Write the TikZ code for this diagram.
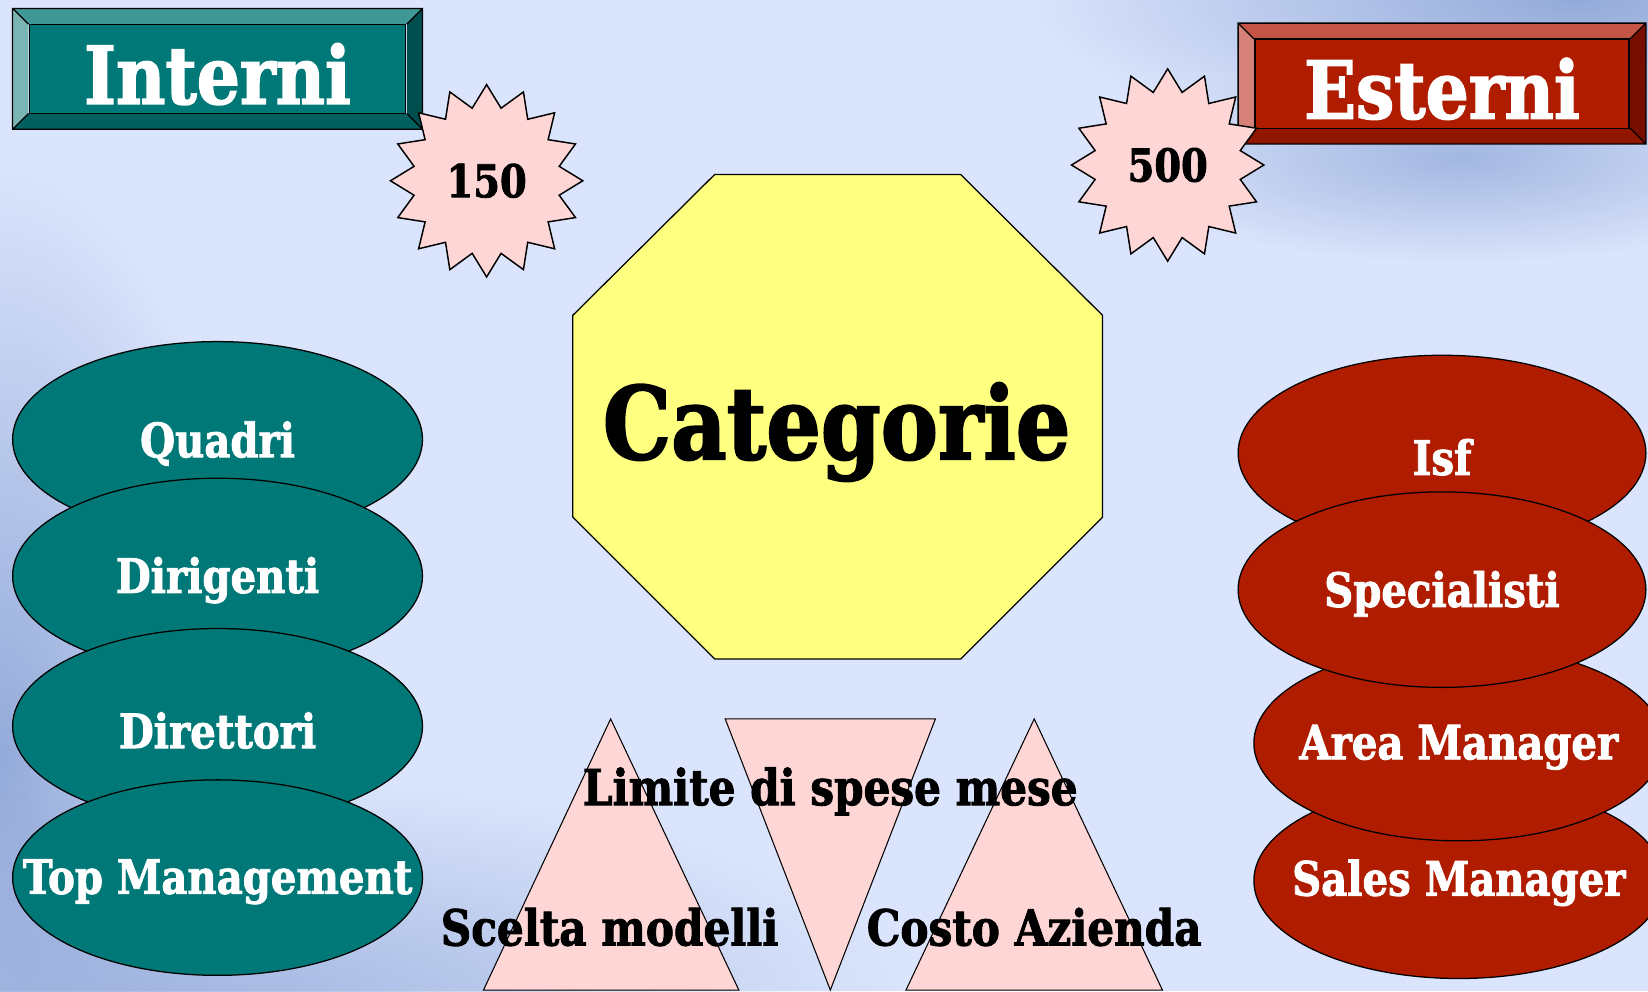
\documentclass[tikz,border=0pt]{standalone}
\usepackage{fontspec}
\newfontfamily\coop{DejaVu Serif}[FakeStretch=0.85,FakeBold=1.8]
\usetikzlibrary{shapes.geometric,fadings}

\definecolor{bgblue}{RGB}{218,228,252}
\definecolor{texblue}{RGB}{140,164,214}
\definecolor{tealface}{RGB}{0,120,120}
\definecolor{tealtop}{RGB}{64,152,150}
\definecolor{tealleft}{RGB}{122,181,179}
\definecolor{tealbot}{RGB}{0,96,96}
\definecolor{tealright}{RGB}{0,78,78}
\definecolor{redface}{RGB}{176,28,0}
\definecolor{redtop}{RGB}{196,85,70}
\definecolor{redleft}{RGB}{214,130,122}
\definecolor{redbot}{RGB}{144,22,0}
\definecolor{redright}{RGB}{118,14,0}
\definecolor{pinkfill}{RGB}{255,214,214}
\definecolor{octoyellow}{RGB}{255,255,128}

\tikzfading[name=softglow,inner color=transparent!0,outer color=transparent!100]

% bevelled frame: x1,y1,x2,y2,depth,colour prefix
\newcommand\bevelbox[6]{%
  \fill[#6top] (#1,#2) -- (#3,#2) -- (#3-#5,#2+#5) -- (#1+#5,#2+#5) -- cycle;
  \fill[#6left] (#1,#2) -- (#1+#5,#2+#5) -- (#1+#5,#4-#5) -- (#1,#4) -- cycle;
  \fill[#6bot] (#1,#4) -- (#1+#5,#4-#5) -- (#3-#5,#4-#5) -- (#3,#4) -- cycle;
  \fill[#6right] (#3,#2) -- (#3,#4) -- (#3-#5,#4-#5) -- (#3-#5,#2+#5) -- cycle;
  \draw[line width=0.6pt] (#1,#2) rectangle (#3,#4)
    (#1,#2) -- (#1+#5,#2+#5) (#3,#2) -- (#3-#5,#2+#5)
    (#1,#4) -- (#1+#5,#4-#5) (#3,#4) -- (#3-#5,#4-#5);
}

\begin{document}
\begin{tikzpicture}[x=0.5pt,y=-0.5pt,
every node/.style={inner sep=0pt},
face/.style={draw,line width=0.6pt,minimum width=179pt,minimum height=42.5pt},
head text/.style={text=white,font=\coop\bfseries\fontsize{38}{42}\selectfont},
oval/.style={ellipse,draw,line width=0.6pt,minimum width=195pt,minimum height=93pt},
teal oval/.style={oval,fill=tealface},
red oval/.style={oval,fill=redface},
oval text/.style={text=white,font=\coop\bfseries\fontsize{22.5}{27}\selectfont},
burst/.style={star,star points=16,star point ratio=1.3,minimum size=91.5pt,
  draw,line width=0.7pt,fill=pinkfill,font=\coop\bfseries\fontsize{21.5}{26}\selectfont},
tri/.style={draw,line width=0.5pt,fill=pinkfill},
tri text/.style={font=\coop\bfseries\fontsize{23.6}{28}\selectfont},
haze/.style={fill=texblue,path fading=softglow}]

\useasboundingbox (0,0) rectangle (1568,943);
\clip (0,0) rectangle (1568,943);

% background
\fill[bgblue] (0,0) rectangle (1568,943);
\fill[haze,opacity=0.9] (0,720) ellipse (240 and 560);
\fill[haze,opacity=0.7] (220,960) ellipse (640 and 220);
\fill[haze,opacity=0.9] (1500,0) ellipse (520 and 140);
\fill[haze,opacity=0.7] (1390,150) ellipse (340 and 100);

% headers
\bevelbox{12}{8}{402}{123}{15}{teal}
\node[face,fill=tealface,
  label={[head text,yshift=-2.5pt]center:Interni}] (interni) at (207,65.5) {};
\bevelbox{1178}{22}{1566}{137}{15}{red}
\node[face,fill=redface,minimum width=178pt,
  label={[head text,yshift=-2.5pt]center:Esterni}] (esterni) at (1372,79.5) {};

\node[burst] (n150) at (463,172) {150};
\node[burst] (n500) at (1111,157) {500};

% centre
\draw[line width=0.6pt,fill=octoyellow] (680,166) -- (914,166) -- (1049,300)
  -- (1049,492) -- (914,627) -- (680,627) -- (545,492) -- (545,300) -- cycle;
\node[font=\coop\bfseries\fontsize{48}{52}\selectfont] (cat) at (796,411) {Categorie};

% interni
\node[teal oval,label={[oval text,yshift=-2pt]center:Quadri}] (quadri) at (207,418) {};
\node[teal oval,label={[oval text,yshift=-2pt]center:Dirigenti}] (dirig) at (207,548) {};
\node[teal oval,label={[oval text,yshift=-2pt]center:Direttori}] (dirett) at (207,691) {};
\node[teal oval,label={[oval text,yshift=-2pt]center:Top Management}] (top) at (207,835) {};

% esterni
\node[red oval,minimum width=194pt,label={[oval text,yshift=-2pt]center:Isf}] (isf) at (1372,431) {};
\node[red oval,label={[oval text,yshift=-1pt]center:Sales Manager}] (sales) at (1388,838) {};
\node[red oval,label={[oval text,yshift=-2pt]center:Area Manager}] (area) at (1388,707) {};
\node[red oval,minimum width=194pt,label={[oval text,yshift=-2pt]center:Specialisti}] (spec) at (1372,561) {};

% triangles
\draw[tri] (581,684) -- (703,942) -- (460,942) -- cycle;
\draw[tri] (690,684) -- (890,684) -- (790,942) -- cycle;
\draw[tri] (984,684) -- (1106,942) -- (862,942) -- cycle;
\node[tri text] (limite) at (790,753) {Limite di spese mese};
\node[tri text] (scelta) at (580,882) {Scelta modelli};
\node[tri text] (costo) at (984,882) {Costo Azienda};
\end{tikzpicture}
\end{document}
